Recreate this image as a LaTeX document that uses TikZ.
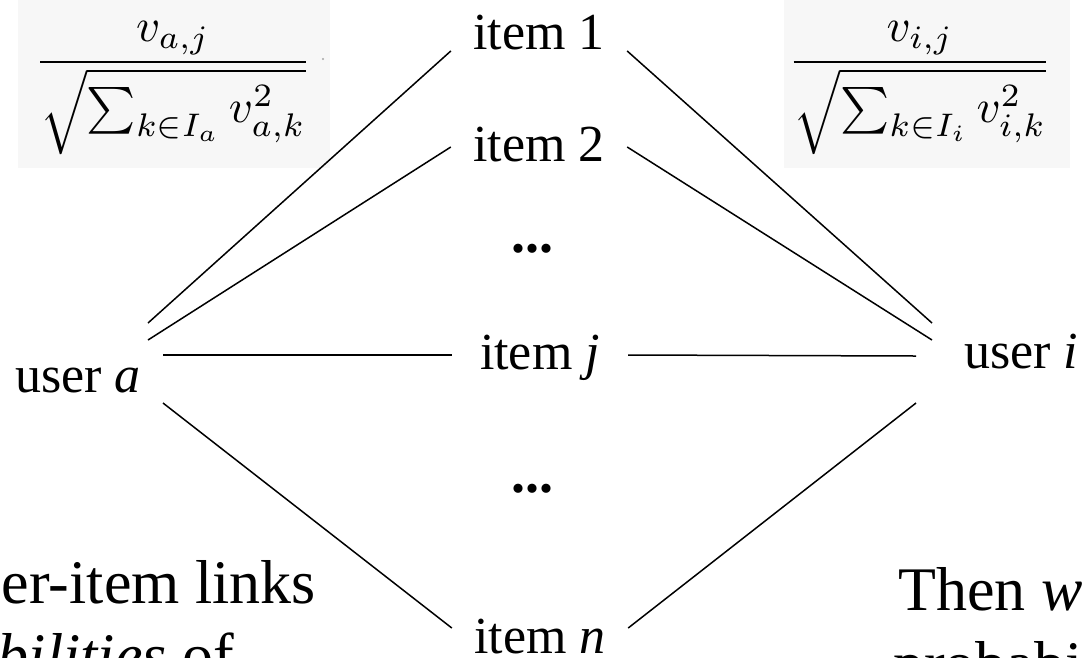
\documentclass[tikz,border=0pt]{standalone}
\usepackage{fontspec}
\setmainfont{Liberation Serif}
\usepackage{graphicx}

\begin{document}
\begin{tikzpicture}[
  x=1pt,y=-1pt,
  item/.style={inner sep=0pt,minimum width=176pt,font=\fontsize{52}{60}\selectfont},
  user/.style={inner sep=0pt,font=\fontsize{52}{60}\selectfont},
  dots/.style={inner sep=0pt,font=\fontsize{56}{60}\selectfont\bfseries},
  note/.style={inner sep=0pt,font=\fontsize{62}{74}\selectfont},
  formula/.style={inner sep=0pt},
  panel/.style={fill=black!3,draw=none},
  link/.style={line width=1.5pt}
]
  \path[use as bounding box] (0,0) rectangle (1083,657);
  \clip (0,0) rectangle (1083,657);

  % weight panels
  \fill[panel] (18,0) rectangle (330,168);
  \fill[panel] (784,0) rectangle (1070,168);
  \node[formula] (wa) at (173,88) {\resizebox{277pt}{!}{$\displaystyle\frac{v_{a,j}}{\sqrt{\sum_{k\in I_a} v_{a,k}^2}}$}};
  \node[formula] (wi) at (920,88) {\resizebox{264pt}{!}{$\displaystyle\frac{v_{i,j}}{\sqrt{\sum_{k\in I_i} v_{i,k}^2}}$}};
  \fill[black!35] (323,59) circle (1.2pt);

  \node[user,anchor=base east] (ua) at (141,392) {user \textit{a}};
  \node[user,anchor=base west] (ui) at (964,368) {user \textit{i}};

  \node[item,anchor=base] (i1) at (539,49) {item 1};
  \node[item,anchor=base] (i2) at (539,161) {item 2};
  \node[dots,anchor=base] (d1) at (532,252) {...};
  \node[item,anchor=base] (ij) at (540,369) {item \textit{j}};
  \node[dots,anchor=base] (d2) at (532,492) {...};
  \node[item,anchor=base] (in) at (540,653) {item \textit{n}};

  \draw[link] ([shift={(7pt,69pt)}]ua.base east) -- ([yshift=-2pt]i1.base west);
  \draw[link] ([shift={(7pt,52pt)}]ua.base east) -- ([yshift=14pt]i2.base west);
  \draw[link] ([shift={(22pt,37pt)}]ua.base east) -- ([yshift=14pt]ij.base west);
  \draw[link] ([shift={(22pt,-11pt)}]ua.base east) -- ([yshift=25pt]in.base west);
  \draw[link] ([yshift=-2pt]i1.base east) -- ([shift={(-32pt,45pt)}]ui.base west);
  \draw[link] ([yshift=14pt]i2.base east) -- ([shift={(-32pt,28pt)}]ui.base west);
  \draw[link] ([yshift=14pt]ij.base east) -- ([shift={(-48pt,12pt)}]ui.base west);
  \draw[link] ([yshift=25pt]in.base east) -- ([shift={(-48pt,-35pt)}]ui.base west);

  % slide text, cut by the frame
  \node[note,anchor=base east] (n1) at (316,603) {er-item links};
  \node[note,anchor=base east] (n2) at (234,676) {\textit{bilities} of};
  \node[note,anchor=base west] (n3) at (898,610) {Then \textit{we}};
  \node[note,anchor=base west] (n4) at (893,684) {probabilities};
\end{tikzpicture}
\end{document}
